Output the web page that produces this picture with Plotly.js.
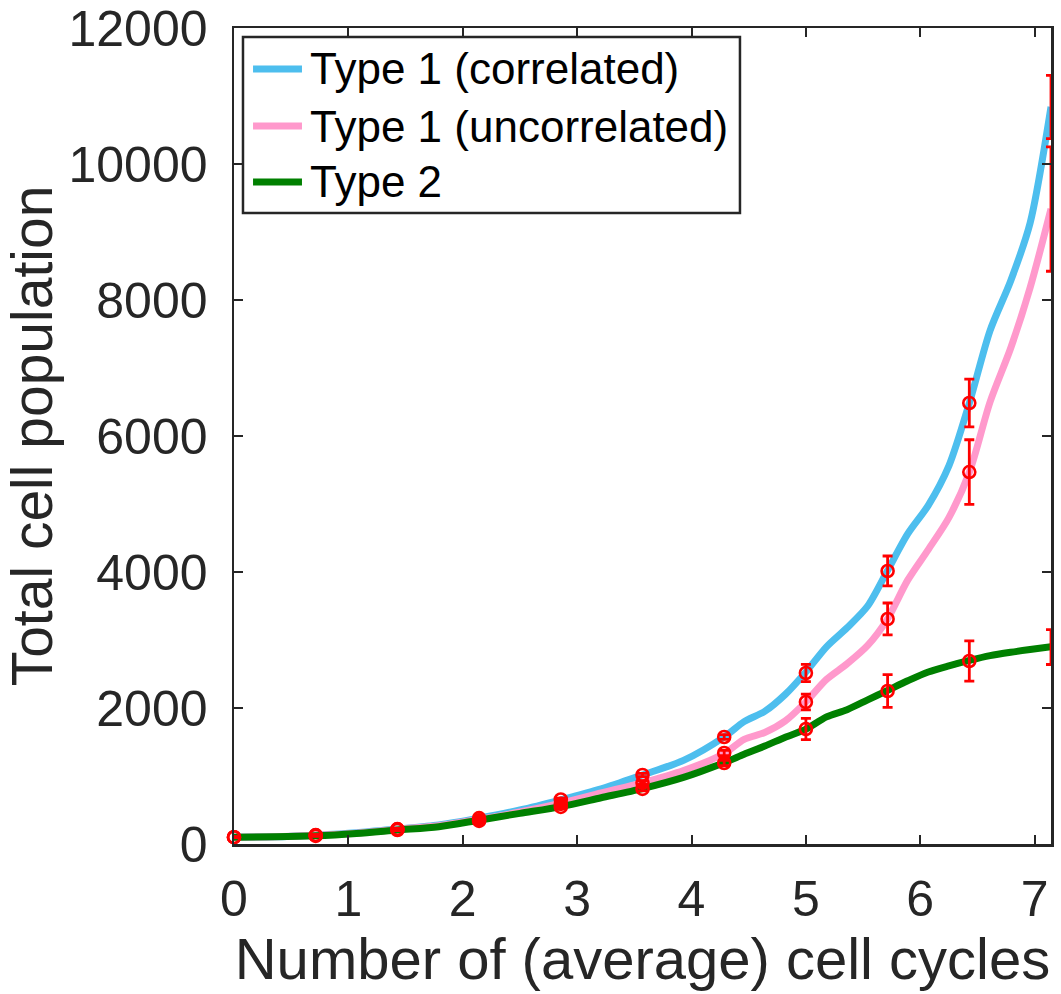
<!DOCTYPE html>
<html>
<head>
<meta charset="utf-8">
<script src="https://cdn.plot.ly/plotly-3.0.1.min.js"></script>
<style>html,body{margin:0;padding:0;background:#fff;}#chart{width:1061px;height:994px;}</style>
</head>
<body>
<div id="chart"></div>
<script>
// Smooth curve samples (x in average cell cycles)
const curveX = [0, 0.357, 0.714, 1.07, 1.43, 1.79, 2.14, 2.5, 2.86, 3.21, 3.57, 3.93, 4.29, 4.46, 4.64, 4.82, 5.0, 5.18, 5.36, 5.54, 5.71, 5.89, 6.07, 6.25, 6.43, 6.61, 6.79, 6.96, 7.1429];
const type1Corr = [100, 105, 130, 165, 220, 280, 380, 500, 650, 810, 1015, 1230, 1580, 1800, 1950, 2200, 2530, 2900, 3180, 3500, 4010, 4560, 4980, 5560, 6490, 7550, 8280, 9130, 10840];
const type1Uncorr = [100, 105, 128, 160, 215, 270, 360, 470, 600, 750, 900, 1080, 1334, 1540, 1640, 1810, 2090, 2420, 2650, 2920, 3300, 3880, 4330, 4800, 5470, 6500, 7290, 8180, 9340];
const type2 = [100, 105, 120, 155, 206, 255, 350, 451, 550, 680, 815, 980, 1200, 1320, 1440, 1570, 1690, 1870, 1975, 2120, 2255, 2400, 2530, 2620, 2700, 2770, 2820, 2860, 2900];

// Sampled points with error bars
const sampleX = [0, 0.7143, 1.4286, 2.1429, 2.8571, 3.5714, 4.2857, 5.0, 5.7143, 6.4286, 7.1429];
const corrMean = [100, 130, 220, 380, 655, 1015, 1574, 2515, 4015, 6485, 10838];
const corrErr = [5, 8, 10, 15, 20, 25, 35, 128, 220, 350, 466];
const uncorrMean = [100, 128, 215, 350, 590, 900, 1338, 2088, 3309, 5470, 9338];
const uncorrErr = [5, 8, 10, 15, 20, 30, 40, 115, 235, 475, 915];
const type2Mean = [100, 120, 206, 340, 545, 810, 1191, 1691, 2250, 2691, 2897];
const type2Err = [5, 8, 10, 15, 20, 30, 40, 155, 240, 296, 257];

const names = ['Type 1 (correlated)', 'Type 1 (uncorrelated)', 'Type 2'];
const colors = ['#4DBEEE', '#FF99CC', '#008000'];
const xTicks = [0, 1, 2, 3, 4, 5, 6, 7];
const yTicks = [0, 2000, 4000, 6000, 8000, 10000, 12000];
const ink = '#262626';
const FONT = '"Liberation Sans", Arial, Helvetica, sans-serif';

const curves = [type1Corr, type1Uncorr, type2];
const means = [corrMean, uncorrMean, type2Mean];
const errs = [corrErr, uncorrErr, type2Err];

const traces = [];
curves.forEach((c, i) => {
  traces.push({
    x: curveX, y: c, type: 'scatter', mode: 'lines', name: names[i],
    line: {color: colors[i], width: 7, shape: 'spline', smoothing: 0.8},
    showlegend: false, hoverinfo: 'skip'
  });
});
means.forEach((m, i) => {
  traces.push({
    x: sampleX, y: m, type: 'scatter', mode: 'markers', showlegend: false,
    marker: {symbol: 'circle-open', size: 12, color: '#FF0000', line: {width: 2.6, color: '#FF0000'}},
    error_y: {type: 'data', array: errs[i], visible: true, color: '#FF0000', thickness: 2.8, width: 5},
    cliponaxis: false
  });
});

// Hand-built legend (box, line samples, labels) in paper coordinates
const legBox = {x0: 0.011, x1: 0.6193, y0: 0.7733, y1: 0.989};
const legRows = [0.9498, 0.8799, 0.8113];
const shapes = [{
  type: 'rect', xref: 'paper', yref: 'paper', layer: 'above',
  x0: legBox.x0, x1: legBox.x1, y0: legBox.y0, y1: legBox.y1,
  fillcolor: '#fff', line: {color: ink, width: 2.5}
}];
const annotations = [];
names.forEach((n, i) => {
  shapes.push({
    type: 'line', xref: 'paper', yref: 'paper', layer: 'above',
    x0: 0.0233, x1: 0.0832, y0: legRows[i], y1: legRows[i],
    line: {color: colors[i], width: 7}
  });
  annotations.push({
    text: n, xref: 'paper', yref: 'paper', x: 0.091, y: legRows[i],
    xanchor: 'left', yanchor: 'middle', showarrow: false,
    font: {family: FONT, size: 44, color: '#000'}
  });
});

const layout = {
  width: 1061, height: 994,
  margin: {l: 234, r: 10, t: 28, b: 150},
  paper_bgcolor: '#fff', plot_bgcolor: '#fff',
  font: {family: FONT, color: ink, size: 50},
  showlegend: false,
  shapes: shapes,
  annotations: annotations,
  xaxis: {
    range: [0, 50/7], tickvals: xTicks, ticktext: xTicks.map(String),
    ticks: 'inside', ticklen: 9, tickwidth: 2, tickcolor: ink,
    showline: true, linecolor: ink, linewidth: 2.5, mirror: 'ticks',
    showgrid: false, zeroline: false,
    tickfont: {family: FONT, size: 50, color: ink}, ticklabelstandoff: 9,
    title: {text: 'Number of (average) cell cycles', font: {family: FONT, size: 58, color: ink}, standoff: 4}
  },
  yaxis: {
    range: [0, 12000], tickvals: yTicks, ticktext: yTicks.map(String),
    ticks: 'inside', ticklen: 9, tickwidth: 2, tickcolor: ink,
    showline: true, linecolor: ink, linewidth: 2.5, mirror: 'ticks',
    showgrid: false, zeroline: false,
    tickfont: {family: FONT, size: 50, color: ink}, ticklabelstandoff: 14,
    title: {text: 'Total cell population', font: {family: FONT, size: 57, color: ink}, standoff: 10}
  }
};

Plotly.newPlot('chart', traces, layout, {staticPlot: true, displayModeBar: false});
</script>
</body>
</html>
